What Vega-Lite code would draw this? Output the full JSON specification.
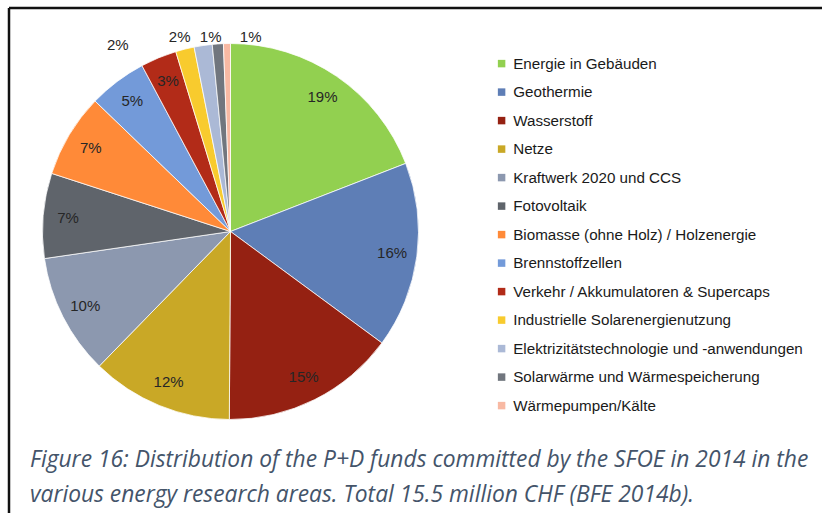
{
  "$schema": "https://vega.github.io/schema/vega-lite/v6.json",
  "width": 813,
  "height": 505,
  "autosize": "none",
  "padding": {"left": 9, "top": 8, "right": 0, "bottom": 0},
  "background": "white",
  "view": {"stroke": "#111111", "strokeWidth": 2.5, "strokeDash": [813, 1318, 505, 0]},
  "config": {
    "view": {"stroke": "#111111", "strokeWidth": 2.5, "strokeDash": [813, 1318, 505, 0]}
  },
  "title": {
    "text": ["Figure 16: Distribution of the P+D funds committed by the SFOE in 2014 in the", "various energy research areas. Total 15.5 million CHF (BFE 2014b)."],
    "orient": "top",
    "anchor": "start",
    "frame": "group",
    "font": "Open Sans",
    "fontStyle": "italic",
    "fontWeight": "normal",
    "fontSize": 22.8,
    "color": "#44546A",
    "lineHeight": 35,
    "offset": 0,
    "dx": 21,
    "dy": 499
  },
  "data": {
    "values": [
      {"cat": "Energie in Gebäuden", "share": 0.191},
      {"cat": "Geothermie", "share": 0.16},
      {"cat": "Wasserstoff", "share": 0.15},
      {"cat": "Netze", "share": 0.122},
      {"cat": "Kraftwerk 2020 und CCS", "share": 0.104},
      {"cat": "Fotovoltaik", "share": 0.073},
      {"cat": "Biomasse (ohne Holz) / Holzenergie", "share": 0.072},
      {"cat": "Brennstoffzellen", "share": 0.05},
      {"cat": "Verkehr / Akkumulatoren & Supercaps", "share": 0.031},
      {"cat": "Industrielle Solarenergienutzung", "share": 0.016},
      {"cat": "Elektrizitätstechnologie und -anwendungen", "share": 0.0155},
      {"cat": "Solarwärme und Wärmespeicherung", "share": 0.0095},
      {"cat": "Wärmepumpen/Kälte", "share": 0.006}
    ]
  },
  "transform": [{"window": [{"op": "row_number", "as": "rank"}]}],
  "encoding": {
    "theta": {"field": "share", "type": "quantitative", "stack": true},
    "order": {"field": "rank", "type": "quantitative"}
  },
  "layer": [
    {
      "mark": {"type": "arc", "x": 221.5, "y": 223.5, "outerRadius": 188, "stroke": "white", "strokeWidth": 0.75},
      "encoding": {
        "color": {
          "field": "cat",
          "type": "nominal",
          "sort": null,
          "scale": {
            "domain": ["Energie in Gebäuden", "Geothermie", "Wasserstoff", "Netze", "Kraftwerk 2020 und CCS", "Fotovoltaik", "Biomasse (ohne Holz) / Holzenergie", "Brennstoffzellen", "Verkehr / Akkumulatoren & Supercaps", "Industrielle Solarenergienutzung", "Elektrizitätstechnologie und -anwendungen", "Solarwärme und Wärmespeicherung", "Wärmepumpen/Kälte"],
            "range": ["#92D050", "#5E7EB6", "#952112", "#C9A826", "#8C98AF", "#5F646B", "#FF8A38", "#739AD9", "#B22B18", "#F8CB2E", "#ABB9D6", "#71767E", "#F8B9A3"]
          },
          "legend": {
            "title": null,
            "orient": "none",
            "legendX": 485,
            "legendY": 48,
            "symbolType": "square",
            "symbolSize": 56,
            "symbolStrokeWidth": 0,
            "labelFont": "Arial",
            "labelFontSize": 15.2,
            "labelColor": "#1a1a1a",
            "labelOffset": 4,
            "rowPadding": 12.5,
            "labelLimit": 400,
            "padding": 0,
            "offset": 0
          }
        }
      }
    },
    {
      "mark": {"type": "text", "x": 221.5, "y": 223.5, "radius": 163, "font": "Arial", "fontSize": 15, "color": "#262626"},
      "encoding": {
        "text": {"condition": {"test": "datum.share >= 0.025", "field": "share", "type": "quantitative", "format": ".0%"}, "value": ""}
      }
    },
    {
      "mark": {"type": "text", "x": 221.5, "y": 223.5, "radius": 205, "dx": -63, "dy": 12, "font": "Arial", "fontSize": 15, "color": "#262626"},
      "encoding": {
        "text": {"condition": {"test": "datum.cat === 'Industrielle Solarenergienutzung'", "field": "share", "type": "quantitative", "format": ".0%"}, "value": ""}
      }
    },
    {
      "mark": {"type": "text", "x": 221.5, "y": 223.5, "radius": 205, "dx": -21, "dy": 8, "font": "Arial", "fontSize": 15, "color": "#262626"},
      "encoding": {
        "text": {"condition": {"test": "datum.cat === 'Elektrizitätstechnologie und -anwendungen'", "field": "share", "type": "quantitative", "format": ".0%"}, "value": ""}
      }
    },
    {
      "mark": {"type": "text", "x": 221.5, "y": 223.5, "radius": 205, "dx": -6, "dy": 10, "font": "Arial", "fontSize": 15, "color": "#262626"},
      "encoding": {
        "text": {"condition": {"test": "datum.cat === 'Solarwärme und Wärmespeicherung'", "field": "share", "type": "quantitative", "format": ".0%"}, "value": ""}
      }
    },
    {
      "mark": {"type": "text", "x": 221.5, "y": 223.5, "radius": 205, "dx": 24, "dy": 10, "font": "Arial", "fontSize": 15, "color": "#262626"},
      "encoding": {
        "text": {"condition": {"test": "datum.cat === 'Wärmepumpen/Kälte'", "field": "share", "type": "quantitative", "format": ".0%"}, "value": ""}
      }
    }
  ]
}
